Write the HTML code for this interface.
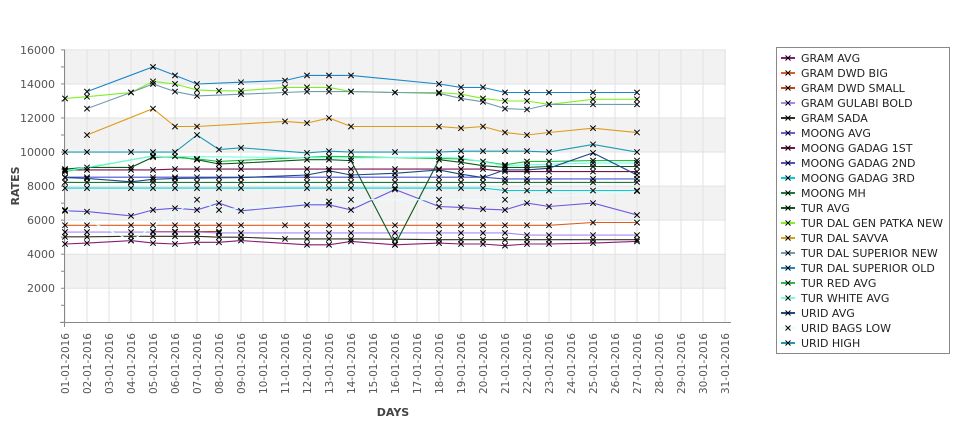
<!DOCTYPE html>
<html><head><meta charset="utf-8"><style>
body{margin:0;background:#fff;}
svg text{font-family:"DejaVu Sans","Liberation Sans",sans-serif;}
</style></head><body>
<svg id="c" width="975" height="429" xmlns="http://www.w3.org/2000/svg">
<rect width="975" height="429" fill="#fff"/>
<g id="bands"></g>
<g id="grid"></g>
<line x1="60" y1="322.5" x2="731" y2="322.5" stroke="#888"/>
<line x1="64.5" y1="50" x2="64.5" y2="327" stroke="#888"/>
<g font-size="11" fill="#555" text-anchor="end">
<text x="55" y="54">16000</text><text x="55" y="88">14000</text><text x="55" y="122">12000</text>
<text x="55" y="156">10000</text><text x="55" y="190">8000</text><text x="55" y="224">6000</text>
<text x="55" y="258">4000</text><text x="55" y="292">2000</text>
</g>
<g id="xl" font-size="10.5" fill="#555" text-anchor="end">
<text transform="translate(69,333) rotate(-90)">01-01-2016</text>
<text transform="translate(91,333) rotate(-90)">02-01-2016</text>
<text transform="translate(113,333) rotate(-90)">03-01-2016</text>
<text transform="translate(135,333) rotate(-90)">04-01-2016</text>
<text transform="translate(157,333) rotate(-90)">05-01-2016</text>
<text transform="translate(179,333) rotate(-90)">06-01-2016</text>
<text transform="translate(201,333) rotate(-90)">07-01-2016</text>
<text transform="translate(223,333) rotate(-90)">08-01-2016</text>
<text transform="translate(245,333) rotate(-90)">09-01-2016</text>
<text transform="translate(267,333) rotate(-90)">10-01-2016</text>
<text transform="translate(289,333) rotate(-90)">11-01-2016</text>
<text transform="translate(311,333) rotate(-90)">12-01-2016</text>
<text transform="translate(333,333) rotate(-90)">13-01-2016</text>
<text transform="translate(355,333) rotate(-90)">14-01-2016</text>
<text transform="translate(377,333) rotate(-90)">15-01-2016</text>
<text transform="translate(399,333) rotate(-90)">16-01-2016</text>
<text transform="translate(421,333) rotate(-90)">17-01-2016</text>
<text transform="translate(443,333) rotate(-90)">18-01-2016</text>
<text transform="translate(465,333) rotate(-90)">19-01-2016</text>
<text transform="translate(487,333) rotate(-90)">20-01-2016</text>
<text transform="translate(509,333) rotate(-90)">21-01-2016</text>
<text transform="translate(531,333) rotate(-90)">22-01-2016</text>
<text transform="translate(553,333) rotate(-90)">23-01-2016</text>
<text transform="translate(575,333) rotate(-90)">24-01-2016</text>
<text transform="translate(597,333) rotate(-90)">25-01-2016</text>
<text transform="translate(619,333) rotate(-90)">26-01-2016</text>
<text transform="translate(641,333) rotate(-90)">27-01-2016</text>
<text transform="translate(663,333) rotate(-90)">28-01-2016</text>
<text transform="translate(685,333) rotate(-90)">29-01-2016</text>
<text transform="translate(707,333) rotate(-90)">30-01-2016</text>
<text transform="translate(729,333) rotate(-90)">31-01-2016</text>
</g>
<text x="393" y="416" font-size="11" font-weight="bold" fill="#444" text-anchor="middle">DAYS</text>
<text transform="translate(19,186) rotate(-90)" font-size="11" font-weight="bold" fill="#444" text-anchor="middle">RATES</text>
<g id="series"></g>
<rect x="776.5" y="47.5" width="173" height="306" fill="#fff" stroke="#888"/>
<g id="leg" font-size="11" fill="#222">
<text x="801" y="62">GRAM AVG</text>
<text x="801" y="77">GRAM DWD BIG</text>
<text x="801" y="92">GRAM DWD SMALL</text>
<text x="801" y="107">GRAM GULABI BOLD</text>
<text x="801" y="122">GRAM SADA</text>
<text x="801" y="137">MOONG AVG</text>
<text x="801" y="152">MOONG GADAG 1ST</text>
<text x="801" y="167">MOONG GADAG 2ND</text>
<text x="801" y="182">MOONG GADAG 3RD</text>
<text x="801" y="197">MOONG MH</text>
<text x="801" y="212">TUR AVG</text>
<text x="801" y="227">TUR DAL GEN PATKA NEW</text>
<text x="801" y="242">TUR DAL SAVVA</text>
<text x="801" y="257">TUR DAL SUPERIOR NEW</text>
<text x="801" y="272">TUR DAL SUPERIOR OLD</text>
<text x="801" y="287">TUR RED AVG</text>
<text x="801" y="302">TUR WHITE AVG</text>
<text x="801" y="317">URID AVG</text>
<text x="801" y="332">URID BAGS LOW</text>
<text x="801" y="347">URID HIGH</text>
</g>
<g id="legm"></g>
</svg>
<script>
var NS="http://www.w3.org/2000/svg";
function el(t,a,p){var e=document.createElementNS(NS,t);for(var k in a)e.setAttribute(k,a[k]);document.getElementById(p).appendChild(e);return e;}
function X(d){return 65+(d-1)*22;}
function Y(v){return 322.3-v*0.017025;}
[14000,10000,6000,2000].forEach(function(v){el("rect",{x:65,y:Y(v+2000),width:661,height:Y(v)-Y(v+2000),fill:"#f2f2f2"},"bands");});
for(var d=1;d<=31;d++){el("line",{x1:X(d),y1:50,x2:X(d),y2:322,stroke:"#e2e2e2"},"grid");}
for(var v=2000;v<=16000;v+=2000){el("line",{x1:65,y1:Y(v),x2:726,y2:Y(v),stroke:"#e2e2e2"},"grid");}
for(var v=0;v<=16000;v+=1000){el("line",{x1:61,y1:Y(v),x2:65,y2:Y(v),stroke:"#888"},"grid");}
var S=[
["#8a1a7a",[[1,4600],[2,4650],[4,4800],[5,4650],[6,4600],[7,4700],[8,4700],[9,4800],[12,4550],[13,4550],[14,4750],[16,4550],[18,4650],[19,4600],[20,4600],[21,4500],[22,4600],[23,4600],[25,4650],[27,4750]]],
["#e05a20",[[1,5700],[2,5700],[4,5700],[5,5700],[6,5700],[7,5700],[8,5700],[9,5700],[11,5700],[12,5700],[13,5700],[14,5700],[16,5700],[18,5700],[19,5700],[20,5700],[21,5700],[22,5700],[23,5700],[25,5860],[27,5860]]],
["#c8400e",[[5,5330],[6,5330],[7,5330],[8,5330]]],
["#a888f0",[[1,5300],[2,5300],[4,5300],[5,5300],[6,5300],[7,5300],[8,5250],[9,5250],[12,5250],[13,5250],[14,5250],[16,5250],[18,5250],[19,5250],[20,5250],[21,5250],[22,5120],[23,5120],[25,5120],[27,5120]]],
["#303020",[[1,5020],[2,5020],[4,5050],[5,5050],[6,5050],[7,5050],[8,5000],[9,5000],[11,4900],[12,4900],[13,4900],[14,4900],[16,4880],[18,4850],[19,4850],[20,4850],[21,4850],[22,4850],[23,4850],[25,4850],[27,4850]]],
["#6a5ae0",[[1,6550],[2,6500],[4,6250],[5,6600],[6,6700],[7,6600],[8,7000],[9,6550],[12,6900],[13,6900],[14,6600],[16,7800],[18,6800],[19,6750],[20,6650],[21,6600],[22,7000],[23,6800],[25,7000],[27,6300]]],
["#7a1050",[[1,8950],[2,8950],[4,8950],[5,8950],[6,9000],[7,9000],[8,9000],[9,9000],[12,9000],[13,9000],[14,9000],[16,9000],[18,9000],[19,9000],[20,9000],[21,8850],[22,8850],[23,8850],[25,8850],[27,8850]]],
["#4a50d0",[[1,8520],[2,8520],[4,8520],[5,8520],[6,8520],[7,8520],[8,8520],[9,8520],[12,8520],[13,8520],[14,8520],[16,8520],[18,8520],[19,8520],[20,8520],[21,8420],[22,8420],[23,8420],[25,8420],[27,8420]]],
["#00d0d8",[[1,7880],[2,7880],[4,7880],[5,7880],[6,7880],[7,7880],[8,7880],[9,7880],[12,7880],[13,7880],[14,7880],[16,7880],[18,7880],[19,7880],[20,7880],[21,7740],[22,7740],[23,7740],[25,7740],[27,7740]]],
["#1a7a3a",[[1,8220],[2,8220],[4,8220],[5,8220],[6,8220],[7,8220],[8,8220],[9,8220],[12,8220],[13,8220],[14,8220],[16,8220],[18,8220],[19,8220],[20,8220],[21,8220],[22,8220],[23,8220],[25,8220],[27,8220]]],
["#0b5a1e",[[1,9000],[2,9100],[4,9100],[5,9700],[6,9750],[7,9550],[8,9300],[9,9350],[12,9550],[13,9550],[14,9500],[16,4550],[18,9550],[19,9400],[20,9200],[21,9100],[22,9100],[23,9150],[25,9150],[27,9150]]],
["#80f020",[[1,13150],[2,13250],[4,13500],[5,14150],[6,14000],[7,13650],[8,13600],[9,13600],[11,13800],[12,13800],[13,13800],[14,13550],[16,13500],[18,13500],[19,13400],[20,13150],[21,13000],[22,13000],[23,12800],[25,13100],[27,13100]]],
["#e09a1a",[[2,11000],[5,12550],[6,11500],[7,11500],[11,11800],[12,11700],[13,12000],[14,11500],[18,11500],[19,11400],[20,11500],[21,11150],[22,11000],[23,11150],[25,11400],[27,11150]]],
["#6f9caf",[[2,12550],[4,13500],[5,14000],[6,13550],[7,13300],[9,13400],[11,13500],[12,13550],[13,13550],[14,13550],[16,13500],[18,13450],[19,13150],[20,12950],[21,12550],[22,12500],[23,12800],[25,12800],[27,12800]]],
["#1a88cc",[[2,13550],[5,15000],[6,14500],[7,14000],[9,14100],[11,14200],[12,14500],[13,14500],[14,14500],[18,14000],[19,13800],[20,13800],[21,13500],[22,13500],[23,13500],[25,13500],[27,13500]]],
["#22c040",[[1,8850],[5,9770],[7,9600],[8,9450],[13,9750],[19,9600],[20,9450],[21,9250],[22,9450],[23,9450],[25,9500],[27,9500]]],
["#70ffe0",[[1,8900],[5,9750],[14,9650],[18,9700],[19,9650],[21,9200],[22,9250],[25,9350],[27,9350]]],
["#1a4a8a",[[1,8500],[2,8450],[4,8250],[5,8400],[6,8450],[9,8500],[12,8650],[13,8900],[14,8650],[16,8750],[18,8950],[19,8700],[20,8500],[21,8950],[22,8950],[23,9050],[25,9950],[27,8650]]],
["#e0ffff",[[1,6600],[4,4800],[7,7200],[8,6600],[13,7100],[14,7200],[18,7200],[21,7200],[27,7700]]],
["#1a9bb5",[[1,10000],[2,10000],[4,10000],[5,10000],[6,10000],[7,11000],[8,10150],[9,10250],[12,9950],[13,10050],[14,10000],[16,10000],[18,10000],[19,10050],[20,10050],[21,10050],[22,10050],[23,10000],[25,10450],[27,10000]]]
];
function mk(x,y,p,s){s=s||2.7;el("path",{d:"M"+(x-s)+","+(y-s)+"L"+(x+s)+","+(y+s)+"M"+(x-s)+","+(y+s)+"L"+(x+s)+","+(y-s),stroke:"#000","stroke-width":1},p);}
S.forEach(function(s,i){
  var pts=s[1].map(function(p){return X(p[0])+","+Y(p[1]).toFixed(1);}).join(" ");
  el("polyline",{points:pts,fill:"none",stroke:s[0],"stroke-width":1.1},"series");
  var ly=58+15*i;
  el("line",{x1:781,y1:ly,x2:795,y2:ly,stroke:s[0],"stroke-width":2},"legm");
  mk(788,ly,"legm",2.5);
});
S.forEach(function(s){s[1].forEach(function(p){mk(X(p[0]),Y(p[1]),"series");});});
</script>
</body></html>
